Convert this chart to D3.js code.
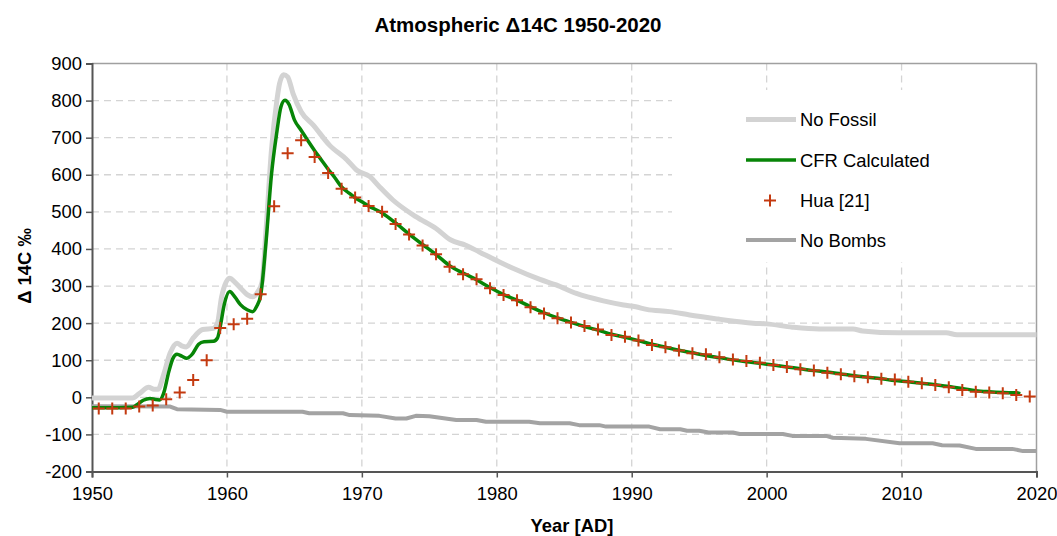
<!DOCTYPE html>
<html>
<head>
<meta charset="utf-8">
<script src="https://cdn.jsdelivr.net/npm/d3@7"></script>
<style>
  html, body { margin: 0; padding: 0; background: #fff; }
  svg { display: block; font-family: "Liberation Sans", Arial, sans-serif; }
</style>
</head>
<body>
<svg id="chart" width="1057" height="536"></svg>
<script>
// ---------- data ----------
const title = "Atmospheric \u039414C 1950-2020";
const xLabel = "Year [AD]";
const yLabel = "\u0394 14C \u2030";
const seriesNames = ["No Fossil", "CFR Calculated", "Hua [21]", "No Bombs"];
const xTicks = [1950, 1960, 1970, 1980, 1990, 2000, 2010, 2020];
const yTicks = [-200, -100, 0, 100, 200, 300, 400, 500, 600, 700, 800, 900];

const noFossilYears = [1950, 1953.0, 1953.5, 1954.2, 1954.6, 1954.9, 1955.3, 1955.8, 1956.3, 1956.7, 1957.0, 1957.5, 1958.2, 1959.0, 1959.3, 1959.6, 1960.2, 1960.6, 1961.0, 1961.5, 1961.9, 1962.3, 1962.6, 1962.9, 1963.3, 1963.7, 1963.9, 1964.2, 1964.5, 1964.9, 1965.5, 1966.4, 1967.6, 1968.9, 1969.6, 1970.6, 1971.3, 1972.3, 1974.0, 1975.5, 1976.6, 1977.7, 1978.7, 1980.2, 1981.2, 1983.2, 1984.4, 1985.9, 1987.9, 1989.4, 1990.3, 1991.1, 1992.8, 1994.3, 1996.4, 1997.0, 1999.0, 2000.0, 2001.9, 2003.9, 2006.4, 2007.1, 2009.8, 2013.3, 2014.1, 2020];
const noFossilValues = [-2, -2, 10, 27, 22, 22, 60, 120, 146, 138, 136, 160, 183, 186, 200, 270, 321, 310, 295, 277, 271, 285, 310, 451, 666, 800, 846, 870, 864, 819, 770, 734, 680, 640, 613, 595, 568, 532, 487, 455, 424, 410, 392, 365, 348, 318, 303, 280, 260, 249, 244, 237, 231, 222, 211, 208, 200, 198, 189, 184, 184, 179, 174, 174, 169, 169];

const cfrYears = [1950, 1951, 1952, 1953, 1953.3, 1953.8, 1954.3, 1954.7, 1955.0, 1955.3, 1955.7, 1956.0, 1956.3, 1956.7, 1957.0, 1957.4, 1957.9, 1958.3, 1959.0, 1959.3, 1959.5, 1959.8, 1960.2, 1960.6, 1961.0, 1961.5, 1961.9, 1962.2, 1962.5, 1962.9, 1963.3, 1963.7, 1964.0, 1964.3, 1964.6, 1965.0, 1965.5, 1966.0, 1966.5, 1967.0, 1967.5, 1968.0, 1968.5, 1969.0, 1969.5, 1970.0, 1970.5, 1971.5, 1972.5, 1973.5, 1974.5, 1975.5, 1976.5, 1977.5, 1978.5, 1979.5, 1980.5, 1981.5, 1982.5, 1983.5, 1984.5, 1985.5, 1986.5, 1987.5, 1988.5, 1989.5, 1990.5, 1991.5, 1992.5, 1993.5, 1994.5, 1995.5, 1996.5, 1997.5, 1998.5, 1999.5, 2000.5, 2001.5, 2002.5, 2003.5, 2004.5, 2005.5, 2006.5, 2007.5, 2008.5, 2009.5, 2010.5, 2011.5, 2012.5, 2013.5, 2014.5, 2015.5, 2016.5, 2017.5, 2018.5, 2018.8];
const cfrValues = [-28, -28, -28, -27, -21, -8, -3, -6, -7, 10, 70, 105, 116, 110, 105, 115, 143, 150, 151, 160, 190, 250, 285, 270, 250, 236, 231, 245, 275, 420, 600, 715, 783, 801, 790, 748, 720, 692, 665, 640, 615, 592, 567, 552, 538, 527, 516, 497, 470, 440, 412, 385, 355, 335, 317, 296, 277, 262, 244, 228, 214, 202, 191, 181, 170, 162, 153, 143, 135, 127, 120, 113, 107, 101, 96, 92, 87, 82, 77, 72, 68, 63, 58, 54, 50, 45, 42, 38, 34, 29, 24, 18, 15, 13, 12, 10];

const huaYears = [1950.5, 1951.5, 1952.5, 1953.5, 1954.5, 1955.5, 1956.5, 1957.5, 1958.5, 1959.5, 1960.5, 1961.5, 1962.5, 1963.5, 1964.5, 1965.5, 1966.5, 1967.5, 1968.5, 1969.5, 1970.5, 1971.5, 1972.5, 1973.5, 1974.5, 1975.5, 1976.5, 1977.5, 1978.5, 1979.5, 1980.5, 1981.5, 1982.5, 1983.5, 1984.5, 1985.5, 1986.5, 1987.5, 1988.5, 1989.5, 1990.5, 1991.5, 1992.5, 1993.5, 1994.5, 1995.5, 1996.5, 1997.5, 1998.5, 1999.5, 2000.5, 2001.5, 2002.5, 2003.5, 2004.5, 2005.5, 2006.5, 2007.5, 2008.5, 2009.5, 2010.5, 2011.5, 2012.5, 2013.5, 2014.5, 2015.5, 2016.5, 2017.5, 2018.5, 2019.5];
const huaValues = [-30, -30, -30, -25, -22, -5, 13, 47, 100, 187, 197, 212, 278, 515, 658, 693, 648, 605, 562, 539, 516, 500, 467, 439, 409, 386, 352, 332, 318, 294, 276, 262, 243, 226, 213, 202, 192, 183, 168, 163, 153, 141, 135, 126, 119, 116, 108, 102, 98, 93, 87, 82, 76, 72, 66, 62, 57, 54, 50, 48, 42, 38, 33, 27, 20, 15, 13, 11, 6, 2];

const noBombsYears = [1950, 1955.8, 1956.3, 1959.5, 1960.0, 1965.6, 1966.1, 1968.6, 1969.1, 1971.3, 1972.5, 1973.3, 1974.0, 1975.0, 1977.0, 1978.5, 1979.2, 1982.4, 1983.2, 1985.4, 1986.1, 1987.6, 1988.1, 1991.3, 1992.1, 1993.6, 1994.1, 1995.0, 1995.7, 1997.5, 1998.0, 2001.2, 2001.9, 2004.4, 2004.9, 2007.35, 2009.85, 2012.3, 2013.0, 2014.3, 2015.5, 2018.2, 2019.0, 2020];
const noBombsValues = [-24, -25, -32, -34, -39, -39, -43, -43, -48, -50, -57, -57, -50, -51, -61, -61, -66, -66, -70, -70, -75, -75, -79, -79, -86, -86, -90, -90, -95, -95, -99, -99, -104, -104, -109, -112, -124, -124, -129, -130, -139, -139, -145, -145];

// ---------- layout ----------
const svg = d3.select("#chart");
const plot = { left: 92, right: 1036.5, top: 63.5, bottom: 471.5 };
const FS = 18.4;

const x = d3.scaleLinear().domain([1950, 2020]).range([plot.left, plot.right]);
const y = d3.scaleLinear().domain([-200, 900]).range([plot.bottom, plot.top]);

// grid
const grid = svg.append("g");
grid.selectAll("line.h").data(yTicks.filter(v => v > -200 && v < 900)).join("line")
  .attr("x1", plot.left).attr("x2", plot.right)
  .attr("y1", d => y(d)).attr("y2", d => y(d))
  .attr("stroke", "#d4d4d4").attr("stroke-width", 1.3).attr("stroke-dasharray", "7,5");
grid.selectAll("line.v").data(xTicks.filter(v => v > 1950 && v < 2020)).join("line")
  .attr("x1", d => x(d)).attr("x2", d => x(d))
  .attr("y1", plot.top).attr("y2", plot.bottom)
  .attr("stroke", "#d4d4d4").attr("stroke-width", 1.3).attr("stroke-dasharray", "7,5");

// legend background (hides grid)
svg.append("rect").attr("x", 672).attr("y", 90).attr("width", 364).attr("height", 172).attr("fill", "#fff");

// frame top/right
svg.append("line").attr("x1", plot.left).attr("x2", plot.right).attr("y1", plot.top).attr("y2", plot.top)
  .attr("stroke", "#a0a0a0").attr("stroke-width", 1.5);
svg.append("line").attr("x1", plot.right).attr("x2", plot.right).attr("y1", plot.top).attr("y2", plot.bottom)
  .attr("stroke", "#a0a0a0").attr("stroke-width", 1.5);

// axes
const xAxis = svg.append("g").attr("transform", `translate(0,${plot.bottom})`)
  .call(d3.axisBottom(x).tickValues(xTicks).tickFormat(d3.format("d")).tickSize(6).tickPadding(9));
const yAxis = svg.append("g").attr("transform", `translate(${plot.left},0)`)
  .call(d3.axisLeft(y).tickValues(yTicks).tickFormat(d => d).tickSize(6).tickPadding(4));
[xAxis, yAxis].forEach(a => {
  a.select(".domain").attr("stroke", "#555").attr("stroke-width", 2);
  a.selectAll(".tick line").attr("stroke", "#555").attr("stroke-width", 1.5);
  a.selectAll(".tick text").attr("font-size", FS).attr("fill", "#000")
    .attr("font-family", "Liberation Sans, Arial, sans-serif");
});

// lines
function mk(xs, vs) { return xs.map((d, i) => ({ x: d, v: vs[i] })); }
const line = d3.line().x(d => x(d.x)).y(d => y(d.v)).curve(d3.curveMonotoneX);
const lineLin = d3.line().x(d => x(d.x)).y(d => y(d.v));

svg.append("path").datum(mk(noFossilYears, noFossilValues)).attr("d", line)
  .attr("fill", "none").attr("stroke", "#d3d3d3").attr("stroke-width", 5).attr("stroke-linejoin", "round");
svg.append("path").datum(mk(noBombsYears, noBombsValues)).attr("d", lineLin)
  .attr("fill", "none").attr("stroke", "#a3a3a3").attr("stroke-width", 4).attr("stroke-linejoin", "round");
svg.append("path").datum(mk(cfrYears, cfrValues)).attr("d", line)
  .attr("fill", "none").attr("stroke", "#078507").attr("stroke-width", 3.5).attr("stroke-linejoin", "round");

const plus = "M-6,0H6M0,-6V6";
svg.append("g").selectAll("path").data(mk(huaYears, huaValues)).join("path")
  .attr("transform", d => `translate(${x(d.x)},${y(d.v)})`)
  .attr("d", plus).attr("stroke", "#c43a10").attr("stroke-width", 2).attr("fill", "none");

// legend
const legRows = [119.5, 160, 200.5, 240];
const lg = svg.append("g");
const legStyles = [
  { type: "line", color: "#d3d3d3", w: 5 },
  { type: "line", color: "#078507", w: 3.5 },
  { type: "plus", color: "#c43a10" },
  { type: "line", color: "#a3a3a3", w: 4 }
];
seriesNames.forEach((name, i) => {
  const ry = legRows[i], s = legStyles[i];
  if (s.type === "line") {
    lg.append("line").attr("x1", 746).attr("x2", 796).attr("y1", ry).attr("y2", ry)
      .attr("stroke", s.color).attr("stroke-width", s.w);
  } else {
    lg.append("path").attr("transform", `translate(770,${ry})`).attr("d", plus)
      .attr("stroke", s.color).attr("stroke-width", 2);
  }
  lg.append("text").attr("x", 800).attr("y", ry + 6.5).attr("font-size", FS).attr("fill", "#000").text(name);
});

// titles
svg.append("text").attr("x", 518).attr("y", 32).attr("text-anchor", "middle")
  .attr("font-size", 20.5).attr("font-weight", "bold").text(title);
svg.append("text").attr("x", 572).attr("y", 532).attr("text-anchor", "middle")
  .attr("font-size", FS).attr("font-weight", "bold").text(xLabel);
svg.append("text").attr("transform", `translate(31,266) rotate(-90)`).attr("text-anchor", "middle")
  .attr("font-size", FS).attr("font-weight", "bold").text(yLabel);
</script>
</body>
</html>
